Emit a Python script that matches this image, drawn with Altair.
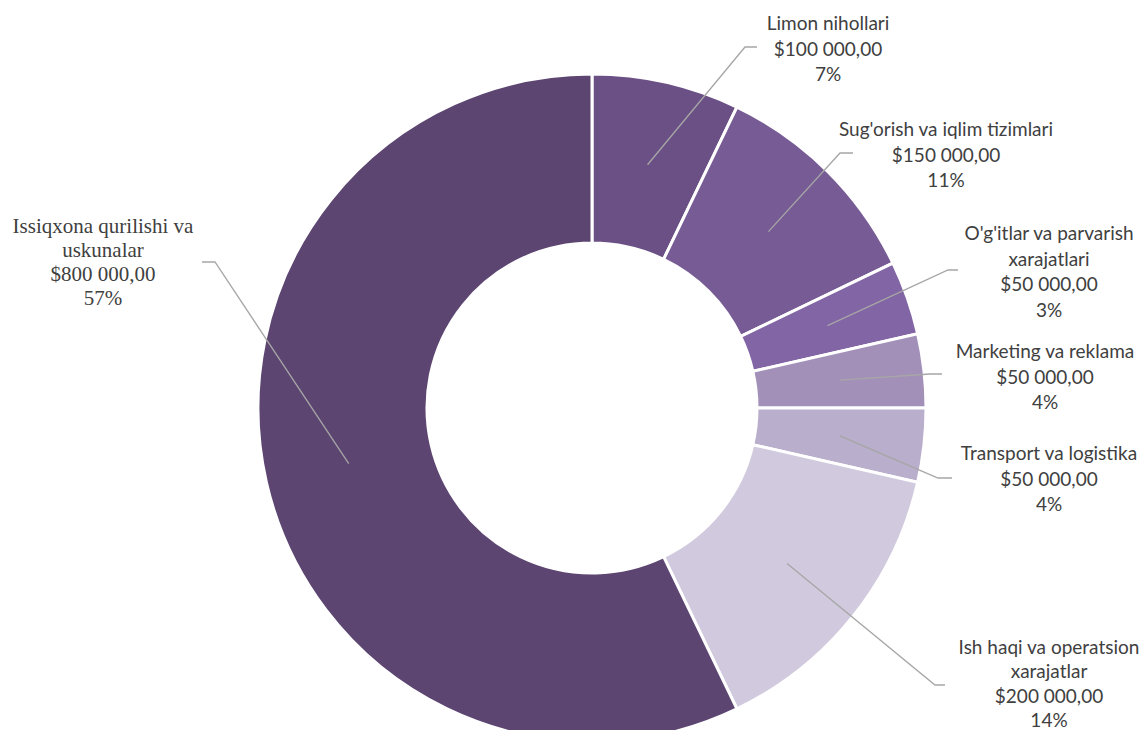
import math
import altair as alt
import pandas as pd

# ---- data ----
categories = [
    "Limon nihollari",
    "Sug'orish va iqlim tizimlari",
    "O'g'itlar va parvarish xarajatlari",
    "Marketing va reklama",
    "Transport va logistika",
    "Ish haqi va operatsion xarajatlar",
    "Issiqxona qurilishi va uskunalar",
]
values = [100000, 150000, 50000, 50000, 50000, 200000, 800000]
pct_labels = ["7%", "11%", "3%", "4%", "4%", "14%", "57%"]

# ---- styling / layout ----
colors = ["#6A5085", "#765B95", "#8265A4", "#A390B8", "#B9AECB", "#D1CADE", "#5C4571"]
W, H = 1132, 722
CX, CY = 584, 400          # donut centre (chart px)
R_OUT, R_IN = 334, 165
# words after which the category name wraps onto a new line (0 = no wrap)
wrap_after = [0, 0, 3, 0, 0, 4, 3]
# leader-line elbow and end points, label block centre-x and first-line centre-y (chart px)
elbows = [(737, 39), (832, 145), (940, 262), (922, 366), (930, 470), (927, 677), (207, 254)]
ends = [(749, 39), (845, 145), (950, 262), (934, 366), (944, 470), (937, 677), (194, 254)]
label_pos = [(820, 16), (938, 122), (1041, 226), (1037, 344), (1041, 446), (1041, 640), (95, 219)]
line_heights = [25.5, 25.5, 25.5, 25.5, 25.5, 24.3, 24]
serif_flags = [False, False, False, False, False, False, True]


def fmt_money(v):
    s = f"{v:,.2f}"
    ip, dp = s.split(".")
    return "$" + ip.replace(",", " ") + "," + dp


total = sum(values)
arc_df = pd.DataFrame({"cat": categories, "value": values, "idx": list(range(len(values)))})

# leader lines: start at mid-angle of each slice, mid radius
line_rows = []
cum = 0
for i, v in enumerate(values):
    mid = (cum + v / 2) / total * 2 * math.pi
    cum += v
    r = (R_OUT + R_IN) / 2
    sx = CX + r * math.sin(mid)
    sy = CY - r * math.cos(mid)
    pts = [(sx, sy), elbows[i], ends[i]]
    for k, (px, py) in enumerate(pts):
        line_rows.append({"seg": i, "k": k, "x": px, "y": py})
line_df = pd.DataFrame(line_rows)

# one text row per label line
sans_rows, serif_rows = [], []
for i, c in enumerate(categories):
    words = c.split(" ")
    if wrap_after[i]:
        name_lines = [" ".join(words[:wrap_after[i]]), " ".join(words[wrap_after[i]:])]
    else:
        name_lines = [c]
    all_lines = name_lines + [fmt_money(values[i]), pct_labels[i]]
    for j, t in enumerate(all_lines):
        row = {"t": t, "x": label_pos[i][0], "y": label_pos[i][1] + j * line_heights[i]}
        (serif_rows if serif_flags[i] else sans_rows).append(row)
sans_df = pd.DataFrame(sans_rows)
serif_df = pd.DataFrame(serif_rows)

xs = alt.Scale(domain=[0, W], nice=False, zero=False)
ys = alt.Scale(domain=[0, H], nice=False, zero=False, reverse=True)

arcs = alt.Chart(arc_df).mark_arc(radius=R_OUT, radius2=R_IN, stroke="white", strokeWidth=3).encode(
    theta=alt.Theta("value:Q", stack=True),
    order=alt.Order("idx:Q"),
    color=alt.Color("cat:N", scale=alt.Scale(domain=categories, range=colors), legend=None),
    x=alt.value(CX),
    y=alt.value(CY),
)

lines = alt.Chart(line_df).mark_line(color="#A6A6A6", strokeWidth=1.3).encode(
    x=alt.X("x:Q", scale=xs, axis=None),
    y=alt.Y("y:Q", scale=ys, axis=None),
    detail="seg:N",
    order="k:Q",
)

sans = alt.Chart(sans_df).mark_text(
    align="center", baseline="middle", font="Lato", fontSize=19, color="#404040",
).encode(x=alt.X("x:Q", scale=xs, axis=None), y=alt.Y("y:Q", scale=ys, axis=None), text="t:N")

serif = alt.Chart(serif_df).mark_text(
    align="center", baseline="middle", font="'Liberation Serif', 'DejaVu Serif', serif",
    fontSize=21, color="#404040",
).encode(x=alt.X("x:Q", scale=xs, axis=None), y=alt.Y("y:Q", scale=ys, axis=None), text="t:N")

chart = alt.layer(arcs, lines, sans, serif).properties(
    width=W, height=H, padding=0, autosize=alt.AutoSizeParams(type="none"), background="white"
).configure_view(stroke=None)

chart.save("out.html", embed_options={"renderer": "svg", "actions": False})
